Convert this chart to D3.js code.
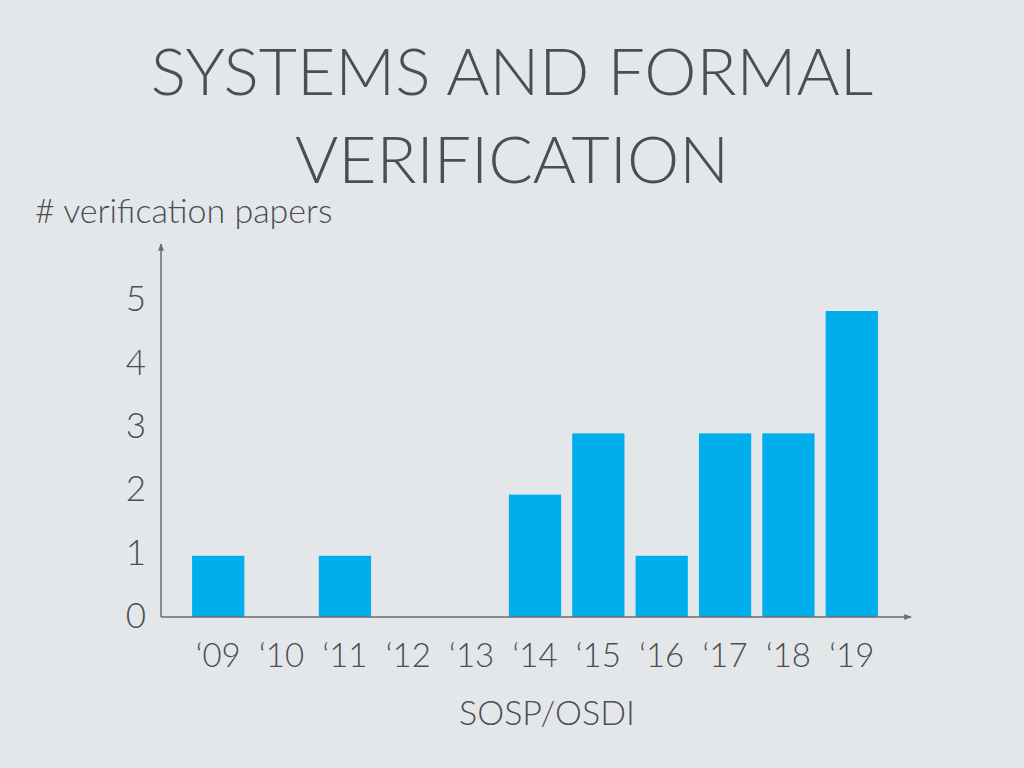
<!DOCTYPE html>
<html>
<head>
<meta charset="utf-8">
<script src="https://cdn.jsdelivr.net/npm/d3@7"></script>
<style>
  body { margin: 0; background: #e4e7ea; }
  text { font-family: "Lato", "Open Sans", sans-serif; font-weight: 300; fill: #4c4e51; }
</style>
</head>
<body>
<svg id="chart"></svg>
<script>
const width = 1024;
const height = 768;

const years = ["\u201809", "\u201810", "\u201811", "\u201812", "\u201813", "\u201814", "\u201815", "\u201816", "\u201817", "\u201818", "\u201819"];
const papers = [1, 0, 1, 0, 0, 2, 3, 1, 3, 3, 5];
const yTicks = [0, 1, 2, 3, 4, 5];
const titleLines = ["SYSTEMS AND FORMAL", "VERIFICATION"];

const svg = d3.select("#chart")
    .attr("width", width)
    .attr("height", height);

svg.append("defs").append("marker")
    .attr("id", "arrow")
    .attr("viewBox", "0 0 10 10")
    .attr("refX", 9)
    .attr("refY", 5)
    .attr("markerWidth", 5)
    .attr("markerHeight", 5)
    .attr("orient", "auto")
    .append("path")
    .attr("d", "M0,1 L10,5 L0,9 Z")
    .attr("fill", "#6b6d70");

const xScale = d3.scaleBand()
    .domain(years)
    .range([181, 889])
    .padding(0.175);

const yScale = d3.scaleLinear()
    .domain([0, 5])
    .range([617, 311]);

// tick labels in the slide sit a little apart from the bar scale
const yLabelScale = d3.scaleLinear()
    .domain([0, 5])
    .range([615, 298]);

// Title
svg.selectAll(".title")
    .data(titleLines)
    .enter()
    .append("text")
    .attr("class", "title")
    .attr("x", 512)
    .attr("y", (d, i) => 95 + i * 88)
    .attr("text-anchor", "middle")
    .style("font-size", "66px")
    .text(d => d);

svg.append("text")
    .attr("x", 35)
    .attr("y", 223)
    .style("font-size", "34px")
    .text("# verification papers");

// Bars
svg.selectAll(".bar")
    .data(papers)
    .enter()
    .append("rect")
    .attr("class", "bar")
    .attr("x", (d, i) => xScale(years[i]))
    .attr("y", d => yScale(d))
    .attr("width", xScale.bandwidth())
    .attr("height", d => yScale(0) - yScale(d))
    .attr("fill", "#00aeec");

// Axes lines with arrow heads
svg.append("line")
    .attr("x1", 161).attr("y1", yScale(0))
    .attr("x2", 161).attr("y2", 244)
    .attr("stroke", "#6b6d70")
    .attr("stroke-width", 1.5)
    .attr("marker-end", "url(#arrow)");

svg.append("line")
    .attr("x1", 161).attr("y1", yScale(0))
    .attr("x2", 911).attr("y2", yScale(0))
    .attr("stroke", "#6b6d70")
    .attr("stroke-width", 1.5)
    .attr("marker-end", "url(#arrow)");

// Y tick labels
const yAxis = d3.axisLeft(yLabelScale)
    .tickValues(yTicks)
    .tickFormat(d3.format("d"))
    .tickSize(0)
    .tickPadding(0);
const yG = svg.append("g")
    .attr("transform", "translate(146, 0)")
    .call(yAxis);
yG.select(".domain").remove();
yG.selectAll("text")
    .attr("text-anchor", "end")
    .attr("dy", "0.36em")
    .style("font-size", "35px");

// X tick labels
const xAxis = d3.axisBottom(xScale).tickSize(0).tickPadding(0);
const xG = svg.append("g")
    .attr("transform", "translate(0, 667)")
    .call(xAxis);
xG.select(".domain").remove();
xG.selectAll("text")
    .attr("dy", 0)
    .style("font-size", "33px");

svg.append("text")
    .attr("x", 547)
    .attr("y", 725)
    .attr("text-anchor", "middle")
    .style("font-size", "34px")
    .text("SOSP/OSDI");
</script>
</body>
</html>
